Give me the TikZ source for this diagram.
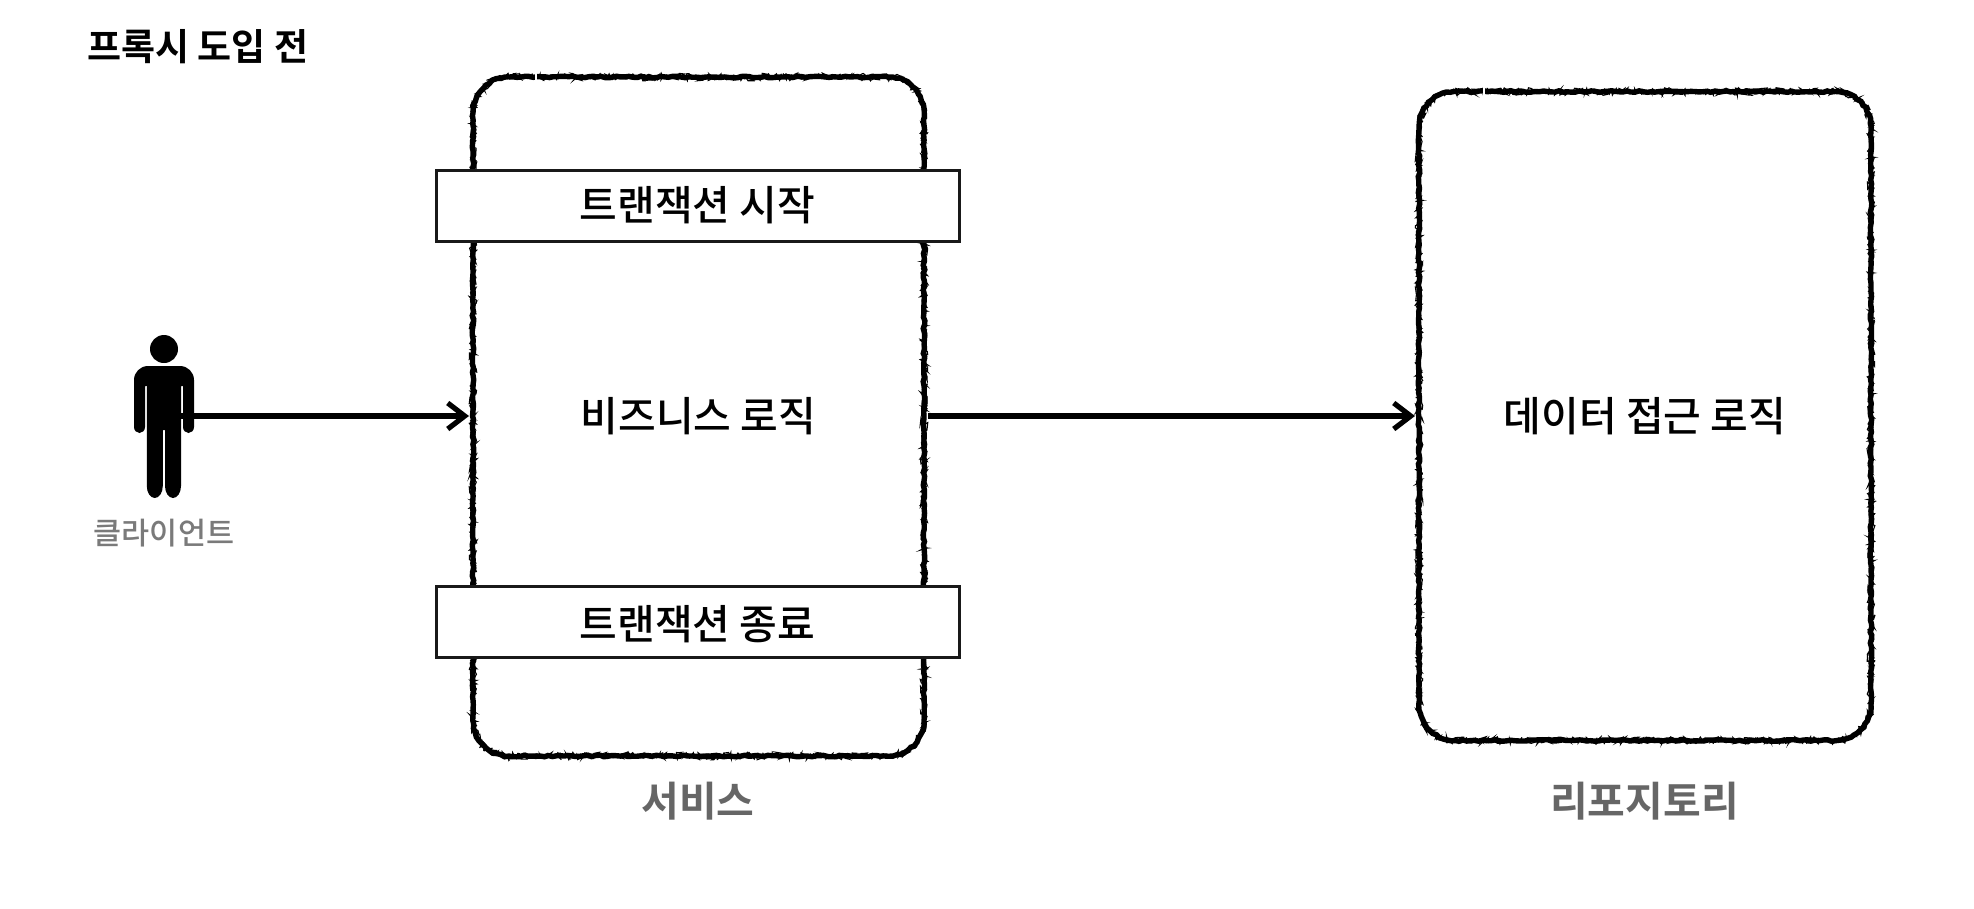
\documentclass[tikz,border=0pt]{standalone}
\usepackage{fontspec}
\setmainfont{Noto Sans CJK KR Medium}[BoldFont={Noto Sans CJK KR Bold}]
\usetikzlibrary{arrows.meta,decorations.pathmorphing}
\pgfmathsetseed{7}
\newcommand{\roughframe}[1]{%
  \path[roughline] ([xshift=36pt]#1.north west) -- ([xshift=-36pt]#1.north east)
    arc (90:0:36pt) -- ([yshift=36pt]#1.south east)
    arc (0:-90:36pt) -- ([xshift=36pt]#1.south west)
    arc (-90:-180:36pt) -- ([yshift=-36pt]#1.north west)
    arc (180:90:36pt) -- cycle;}
\tikzset{
  x=1pt,y=-1pt,
  labelbox/.style={shape=rectangle,outer sep=0pt,inner sep=0pt,
    font=\fontsize{41}{48}\selectfont,text=black},
  roughline/.style={
    preaction={draw,line width=5.4pt,black,decorate,decoration={random steps,segment length=4pt,amplitude=.8pt}},
    postaction={draw,line width=1.1pt,black,decorate,decoration={random steps,segment length=1.5pt,amplitude=3.8pt}}},
  txbox/.style={draw=black!90,line width=3pt,fill=white,shape=rectangle,outer sep=0pt,inner sep=0pt,
    minimum width=523pt,minimum height=71pt,font=\fontsize{41}{48}\selectfont,text=black},
  flow/.style={line width=5.2pt,black,-{Straight Barb[length=17pt,width=26pt,line width=5.2pt]}},
  caption/.style={inner sep=0pt,font=\fontsize{41}{48}\selectfont\bfseries,text=black!60},
  clientlabel/.style={inner sep=0pt,font=\fontsize{30.5}{36}\selectfont,text=black!52},
  titletext/.style={inner sep=0pt,anchor=west,font=\fontsize{37}{44}\selectfont\bfseries,text=black},
  person/.style={fill=black,draw=none}
}
\begin{document}
\begin{tikzpicture}
\useasboundingbox (0,0) rectangle (1974,908);
\fill[white] (0,0) rectangle (1974,908);
\node[titletext] (title) at (87,47) {프록시 도입 전};

\node[labelbox,minimum width=451pt,minimum height=679pt] (svc) at (698.5,416.5) {비즈니스 로직};
\node[labelbox,minimum width=452pt,minimum height=649pt] (repo) at (1645,416) {데이터 접근 로직};
\roughframe{svc}
\roughframe{repo}
\fill[white] (535,70) rectangle (537,86);
\fill[white] (1483,85) rectangle (1485,99);

\node[txbox] (begin) at (697.5,205.5) {트랜잭션 시작};
\node[txbox] (end) at (697.5,622) {\raisebox{-2pt}[\height][\depth]{트랜잭션 종료}};

% person
\fill[person] (164,349) circle (14);
\fill[person] (134,380) arc (180:270:14) -- (180,366) arc (270:360:14) -- (194,427)
  arc (0:180:5.5 and 6) -- (183,386) -- (181,386) -- (181,486)
  arc (0:180:8 and 12) -- (165.2,430) -- (162.8,430) -- (162.8,486)
  arc (0:180:8 and 12) -- (147,386) -- (145,386) -- (145,427)
  arc (0:180:5.5 and 6) -- cycle;
\coordinate (clientarm) at (180,416);

\node[clientlabel] (client) at (164,533) {클라이언트};
\node[caption] (svccap) at (698,801) {서비스};
\node[caption] (repocap) at (1644.5,801) {리포지토리};

\draw[flow,shorten >=4pt] (clientarm) -- (clientarm -| svc.west);
\draw[flow,shorten >=4pt] ([xshift=4pt]clientarm -| svc.east) -- (clientarm -| repo.west);
\end{tikzpicture}
\end{document}
